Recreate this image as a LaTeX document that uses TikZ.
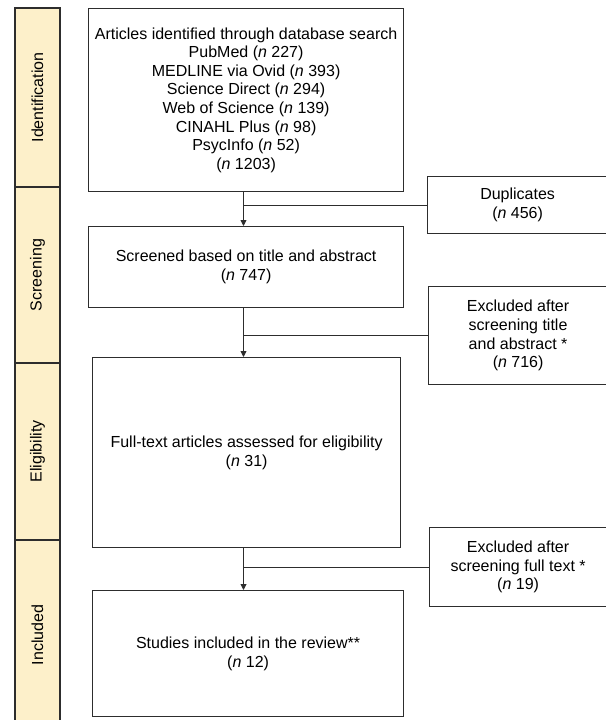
\documentclass[tikz,border=0pt]{standalone}
\usepackage{fontspec}
\setmainfont{Liberation Sans}
\usetikzlibrary{arrows.meta}
\definecolor{phasefill}{RGB}{253,240,202}
\definecolor{boxline}{RGB}{45,45,45}
\newcommand{\nval}[1]{(\textit{n}~#1)}
\begin{document}
\begin{tikzpicture}[x=1pt,y=-1pt,
  font=\fontsize{16}{18.6}\selectfont,
  flowbox/.style={draw=boxline,line width=1.2pt,anchor=north west,align=center,inner sep=0pt},
  phase/.style={draw=boxline,fill=phasefill,line width=1.2pt,rotate=90,minimum height=45,inner sep=0pt},
  link/.style={draw=boxline,line width=0.9pt},
  arrowlink/.style={link,-{Triangle[width=6pt,length=6pt]}}]
  \useasboundingbox (0,0) rectangle (605,720);
  \node [phase,minimum width=179] (idphase) at (37.5,97.5) {Identification};
  \node [phase,minimum width=176] (scphase) at (37.5,275) {Screening};
  \node [phase,minimum width=177] (elphase) at (37.5,451.5) {Eligibility};
  \node [phase,minimum width=190] (inphase) at (37.5,635) {Included};
  \node [flowbox,minimum width=315,minimum height=183] (ident) at (88,8)
    {Articles identified through database search\\PubMed \nval{227}\\MEDLINE via Ovid \nval{393}\\Science Direct \nval{294}\\Web of Science \nval{139}\\CINAHL Plus \nval{98}\\PsycInfo \nval{52}\\\nval{1203}};
  \node [flowbox,minimum width=315,minimum height=81] (screen) at (88,226)
    {Screened based on title and abstract\\\nval{747}};
  \node [flowbox,minimum width=308,minimum height=190] (full) at (92,357)
    {Full-text articles assessed for eligibility\\\nval{31}};
  \node [flowbox,minimum width=311,minimum height=126] (incl) at (92,590)
    {Studies included in the review**\\\nval{12}};
  \node [flowbox,minimum width=180,minimum height=57] (dup) at (427,176)
    {Duplicates\\\nval{456}};
  \node [flowbox,minimum width=179,minimum height=98] (exabs) at (428,286)
    {Excluded after\\screening title\\and abstract *\\\nval{716}};
  \node [flowbox,minimum width=177,minimum height=79] (exfull) at (429,527)
    {Excluded after\\screening full text *\\\nval{19}};
  \coordinate (spine) at (243.5,0);
  \draw [arrowlink] (spine |- ident.south) -- (spine |- screen.north);
  \draw [link] (spine |- dup.west) -- (dup.west);
  \draw [arrowlink] (spine |- screen.south) -- (spine |- full.north);
  \draw [link] (spine |- exabs.west) -- (exabs.west);
  \draw [arrowlink] (spine |- full.south) -- (spine |- incl.north);
  \draw [link] (spine |- exfull.west) -- (exfull.west);
\end{tikzpicture}
\end{document}
